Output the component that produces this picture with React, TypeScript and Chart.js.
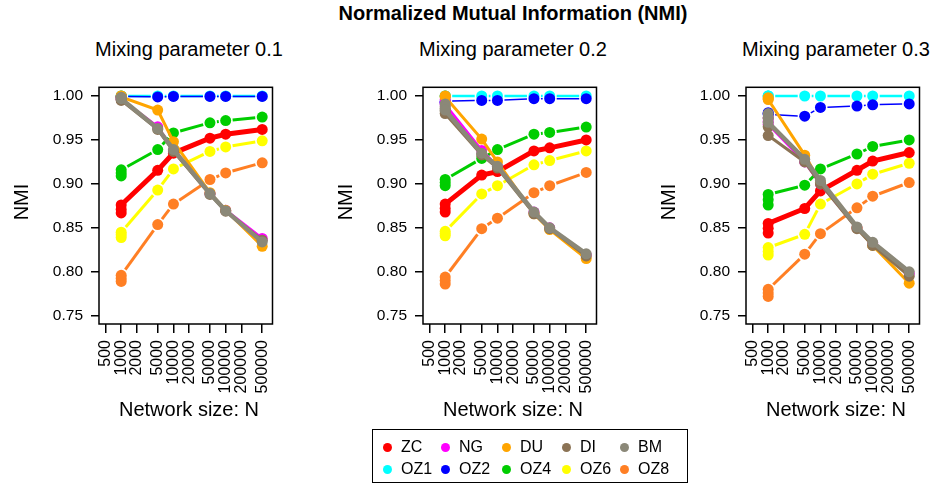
import React, { useEffect, useRef } from "react";
import { Chart, registerables } from "chart.js";

Chart.register(...registerables);

// ---------------- data ----------------
const SERIES = ["ZC", "NG", "DU", "DI", "BM", "OZ1", "OZ2", "OZ4", "OZ6", "OZ8"];
const N_VALUES = [1000, 5000, 10000, 50000, 100000, 500000];
const X_TICKS = [500, 1000, 2000, 5000, 10000, 20000, 50000, 100000, 200000, 500000];
const Y_TICKS = [0.75, 0.8, 0.85, 0.9, 0.95, 1.0];
const PANEL_TITLES = ["Mixing parameter 0.1", "Mixing parameter 0.2", "Mixing parameter 0.3"];

// Mixing parameter 0.1
const ZC_01 = [0.871, 0.9155, 0.935, 0.952, 0.9565, 0.962];
const NG_01 = [0.997, 0.965, 0.938, 0.889, 0.87, 0.838];
const DU_01 = [1.0, 0.984, 0.948, 0.89, 0.87, 0.829];
const DI_01 = [0.996, 0.962, 0.937, 0.888, 0.869, 0.836];
const BM_01 = [0.998, 0.963, 0.939, 0.889, 0.8695, 0.834];
const OZ1_01 = [1.0, 1.0, 1.0, 1.0, 1.0, 1.0];
const OZ2_01 = [0.999, 0.999, 0.9995, 0.9995, 0.9995, 0.9995];
const OZ4_01 = [0.9125, 0.939, 0.958, 0.9695, 0.972, 0.976];
const OZ6_01 = [0.842, 0.893, 0.917, 0.937, 0.942, 0.949];
const OZ8_01 = [0.7925, 0.8537, 0.877, 0.905, 0.9125, 0.924];
const LO_01 = [0.867, 0.996, 0.999, 0.995, 0.997, 1.0, 0.999, 0.909, 0.839, 0.789];
const HI_01 = [0.876, 0.998, 1.0, 0.997, 0.9985, 1.0, 0.9995, 0.916, 0.845, 0.796];

// Mixing parameter 0.2
const ZC_02 = [0.872, 0.91, 0.914, 0.9375, 0.941, 0.95];
const NG_02 = [0.993, 0.938, 0.92, 0.868, 0.85, 0.819];
const DU_02 = [1.0, 0.951, 0.925, 0.866, 0.848, 0.815];
const DI_02 = [0.983, 0.933, 0.918, 0.866, 0.849, 0.818];
const BM_02 = [0.988, 0.935, 0.92, 0.868, 0.85, 0.8205];
const OZ1_02 = [1.0, 1.0, 1.0, 1.0, 1.0, 1.0];
const OZ2_02 = [0.993, 0.995, 0.995, 0.997, 0.997, 0.997];
const OZ4_02 = [0.9015, 0.929, 0.939, 0.9566, 0.9585, 0.9647];
const OZ6_02 = [0.8435, 0.8886, 0.898, 0.9217, 0.9265, 0.9375];
const OZ8_02 = [0.79, 0.849, 0.861, 0.89, 0.898, 0.913];
const LO_02 = [0.868, 0.99, 0.999, 0.98, 0.984, 1.0, 0.992, 0.898, 0.841, 0.786];
const HI_02 = [0.877, 0.996, 1.0, 0.986, 0.991, 1.0, 0.994, 0.905, 0.846, 0.794];

// Mixing parameter 0.3
const ZC_03 = [0.8495, 0.872, 0.892, 0.9155, 0.926, 0.9357];
const NG_03 = [0.971, 0.925, 0.9, 0.85, 0.832, 0.798];
const DU_03 = [0.997, 0.9327, 0.9015, 0.85, 0.83, 0.787];
const DI_03 = [0.965, 0.925, 0.9, 0.849, 0.83, 0.795];
const BM_03 = [0.975, 0.928, 0.904, 0.851, 0.8335, 0.8];
const OZ1_03 = [1.0, 1.0, 1.0, 1.0, 1.0, 1.0];
const OZ2_03 = [0.98, 0.977, 0.987, 0.9886, 0.99, 0.991];
const OZ4_03 = [0.882, 0.8985, 0.917, 0.934, 0.9426, 0.95];
const OZ6_03 = [0.823, 0.8426, 0.877, 0.9, 0.911, 0.9235];
const OZ8_03 = [0.776, 0.82, 0.8434, 0.8728, 0.886, 0.9015];
const LO_03 = [0.844, 0.968, 0.996, 0.955, 0.97, 1.0, 0.979, 0.876, 0.819, 0.772];
const HI_03 = [0.855, 0.975, 0.998, 0.975, 0.98, 1.0, 0.981, 0.888, 0.8275, 0.78];

const PANEL_VALUES = [
  [ZC_01, NG_01, DU_01, DI_01, BM_01, OZ1_01, OZ2_01, OZ4_01, OZ6_01, OZ8_01],
  [ZC_02, NG_02, DU_02, DI_02, BM_02, OZ1_02, OZ2_02, OZ4_02, OZ6_02, OZ8_02],
  [ZC_03, NG_03, DU_03, DI_03, BM_03, OZ1_03, OZ2_03, OZ4_03, OZ6_03, OZ8_03],
];
const PANEL_LO = [LO_01, LO_02, LO_03];
const PANEL_HI = [HI_01, HI_02, HI_03];

// ---------------- styles ----------------
const COLORS = ["#FF0000", "#FF00FF", "#FFA500", "#8B7355", "#8B8878", "#00FFFF", "#0000FF", "#00CD00", "#FFFF00", "#FF7F24"];
const LINE_WIDTHS = [5, 3, 3, 3, 4.5, 2.5, 1.5, 3, 3, 3];
const GAPPED = [false, false, false, false, false, true, true, true, true, true]; // R type "b"
const DRAW_ORDER = [5, 4, 3, 2, 1, 10, 9, 8, 7, 6]; // higher = drawn earlier (below)
const FONT = "'Liberation Sans', Arial, Helvetica, sans-serif";
const BOX_LEFT = [99, 423, 746];
const BOX_W = 180;
const BOX_TOP = 80;
const BOX_H = 244;
const X_MIN = 376;
const X_MAX = 787000;
const Y_MIN = 0.7406;
const Y_MAX = 1.0099;
const CANVAS_LEFT_PAD = 95;
const CANVAS_TOP = 70;
const CANVAS_W = 285;
const CANVAS_H = 330;
const POINT_R = 5.5;
const GAP = 7;

Chart.defaults.font.family = FONT;
Chart.defaults.color = "#000";

const boxPlugin = {
  id: "rbox",
  afterDraw(chart: any) {
    const { ctx, chartArea: a } = chart;
    ctx.save();
    ctx.strokeStyle = "#000";
    ctx.lineWidth = 1.5;
    ctx.strokeRect(a.left, a.top, a.right - a.left, a.bottom - a.top);
    ctx.restore();
  },
};

function seriesPoints(vals: number[], lo: number, hi: number) {
  const first = vals[1] >= vals[0] ? [lo, vals[0], hi] : [hi, vals[0], lo];
  return [
    ...first.map((y) => ({ x: N_VALUES[0], y })),
    ...vals.slice(1).map((y, i) => ({ x: N_VALUES[i + 1], y })),
  ];
}

function gapDash(ctx: any) {
  const dx = ctx.p1.x - ctx.p0.x;
  const dy = ctx.p1.y - ctx.p0.y;
  const L = Math.sqrt(dx * dx + dy * dy);
  if (L <= 2 * GAP + 1) return [0, 100000];
  return [0, GAP, L - 2 * GAP, 100000 + L];
}

function Panel({ index }: { index: number }) {
  const ref = useRef<HTMLCanvasElement | null>(null);
  useEffect(() => {
    if (!ref.current) return;
    const vals = PANEL_VALUES[index];
    const datasets = SERIES.map((name, s) => ({
      label: name,
      data: seriesPoints(vals[s], PANEL_LO[index][s], PANEL_HI[index][s]),
      showLine: true,
      borderColor: COLORS[s],
      backgroundColor: COLORS[s],
      borderWidth: LINE_WIDTHS[s],
      borderCapStyle: "butt",
      pointRadius: POINT_R,
      pointBorderWidth: 0,
      pointBackgroundColor: COLORS[s],
      tension: 0,
      order: DRAW_ORDER[s],
      segment: GAPPED[s] ? { borderDash: gapDash } : undefined,
    }));
    const gridOpts = {
      display: true,
      drawOnChartArea: false,
      drawTicks: true,
      color: "#000",
      lineWidth: 1.5,
    };
    const chart = new Chart(ref.current, {
      type: "scatter",
      data: { datasets },
      options: {
        animation: false,
        responsive: false,
        maintainAspectRatio: false,
        events: [],
        layout: { padding: { left: 0, top: BOX_TOP - CANVAS_TOP, right: CANVAS_W - CANVAS_LEFT_PAD - BOX_W, bottom: 0 } },
        plugins: { legend: { display: false }, tooltip: { enabled: false }, title: { display: false } },
        scales: {
          x: {
            type: "logarithmic",
            min: X_MIN,
            max: X_MAX,
            afterBuildTicks: (s: any) => {
              s.ticks = X_TICKS.map((v) => ({ value: v }));
            },
            afterFit: (s: any) => {
              s.height = CANVAS_H - (BOX_TOP - CANVAS_TOP) - BOX_H;
            },
            ticks: {
              autoSkip: false,
              maxRotation: 90,
              minRotation: 90,
              padding: 7,
              color: "#000",
              font: { size: 16, family: FONT },
              callback: (v: any) => String(v),
            },
            grid: { ...gridOpts, tickLength: 9 },
            border: { display: false },
          },
          y: {
            type: "linear",
            min: Y_MIN,
            max: Y_MAX,
            afterBuildTicks: (s: any) => {
              s.ticks = Y_TICKS.map((v) => ({ value: v }));
            },
            afterFit: (s: any) => {
              s.width = CANVAS_LEFT_PAD;
            },
            ticks: {
              padding: 8,
              color: "#000",
              font: { size: 15.5, family: FONT },
              callback: (v: any) => Number(v).toFixed(2),
            },
            grid: { ...gridOpts, tickLength: 8 },
            border: { display: false },
          },
        },
      },
      plugins: [boxPlugin],
    } as any);
    return () => chart.destroy();
  }, [index]);

  const left = BOX_LEFT[index] - CANVAS_LEFT_PAD;
  const cx = BOX_LEFT[index] + BOX_W / 2;
  return (
    <>
      <div
        style={{
          position: "absolute",
          left: cx - 150,
          top: 37,
          width: 300,
          textAlign: "center",
          fontSize: 20,
          lineHeight: "24px",
          whiteSpace: "nowrap",
        }}
      >
        {PANEL_TITLES[index]}
      </div>
      <canvas
        ref={ref}
        width={CANVAS_W}
        height={CANVAS_H}
        style={{ position: "absolute", left, top: CANVAS_TOP, width: CANVAS_W, height: CANVAS_H }}
      />
      <div
        style={{
          position: "absolute",
          left: BOX_LEFT[index] - 78 - 50,
          top: BOX_TOP + BOX_H / 2 - 12,
          width: 100,
          height: 24,
          lineHeight: "24px",
          textAlign: "center",
          fontSize: 20,
          transform: "rotate(-90deg)",
        }}
      >
        NMI
      </div>
      <div
        style={{
          position: "absolute",
          left: cx - 120,
          top: 397,
          width: 240,
          textAlign: "center",
          fontSize: 20,
          lineHeight: "24px",
          whiteSpace: "nowrap",
        }}
      >
        Network size: N
      </div>
    </>
  );
}

const LEGEND_COL_X = [387, 445, 506, 566, 624];
const LEGEND_ROW_Y = [447, 469];

function Legend() {
  return (
    <>
      <div
        style={{
          position: "absolute",
          left: 372,
          top: 429,
          width: 316,
          height: 54,
          border: "1.5px solid #000",
          boxSizing: "border-box",
        }}
      />
      {SERIES.map((name, i) => {
        const cx = LEGEND_COL_X[i % 5];
        const cy = LEGEND_ROW_Y[Math.floor(i / 5)];
        return (
          <React.Fragment key={name}>
            <div
              style={{
                position: "absolute",
                left: cx - 4.5,
                top: cy - 4.5,
                width: 9,
                height: 9,
                borderRadius: "50%",
                background: COLORS[i],
              }}
            />
            <div
              style={{
                position: "absolute",
                left: cx + 14,
                top: cy - 11,
                height: 22,
                lineHeight: "22px",
                fontSize: 16,
                whiteSpace: "nowrap",
              }}
            >
              {name}
            </div>
          </React.Fragment>
        );
      })}
    </>
  );
}

export default function App() {
  return (
    <div
      style={{
        position: "absolute",
        left: 0,
        top: 0,
        width: 930,
        height: 485,
        background: "#fff",
        fontFamily: FONT,
        color: "#000",
        overflow: "hidden",
      }}
    >
      <div
        style={{
          position: "absolute",
          left: 513 - 250,
          top: 1,
          width: 500,
          textAlign: "center",
          fontSize: 20,
          fontWeight: "bold",
          lineHeight: "24px",
          whiteSpace: "nowrap",
        }}
      >
        Normalized Mutual Information (NMI)
      </div>
      {[0, 1, 2].map((i) => (
        <Panel key={i} index={i} />
      ))}
      <Legend />
    </div>
  );
}
